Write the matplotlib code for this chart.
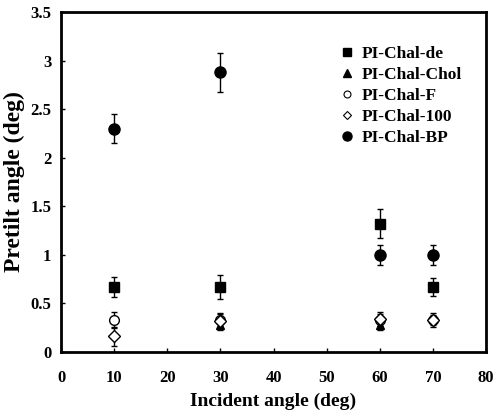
import matplotlib.pyplot as plt
from matplotlib.lines import Line2D
import numpy as np

plt.rcParams['font.family'] = ['Liberation Serif', 'DejaVu Serif']
plt.rcParams['font.weight'] = 'bold'

# angles d'incidence
angles = [10, 30, 60, 70]

# valeurs mesurées (pretilt, deg) et barres d'erreur
de_y = [0.67, 0.67, 1.32, 0.67]
de_err = [0.10, 0.12, 0.15, 0.09]

chol_x = [30, 60]
chol_y = [0.28, 0.28]
chol_err = [0.05, 0.05]

f_y = [0.33, 0.33, 0.33, 0.33]
f_err = [0.08, 0.06, 0.06, 0.05]

p100_y = [0.16, 0.32, 0.34, 0.33]
p100_err = [0.10, 0.08, 0.07, 0.07]

bp_y = [2.30, 2.88, 1.00, 1.00]
bp_err = [0.15, 0.20, 0.10, 0.10]

labels = ['PI-Chal-de', 'PI-Chal-Chol', 'PI-Chal-F', 'PI-Chal-100', 'PI-Chal-BP']

fig = plt.figure(figsize=(5, 4.19), dpi=100)
ax = fig.add_axes([0.122, 0.16, 0.85, 0.811])

kw = dict(color='black', ecolor='black', elinewidth=1, capsize=2.5, linestyle='none')
ax.errorbar(angles, de_y, yerr=de_err, marker='s', markersize=7, **kw)
ax.errorbar(chol_x, chol_y, yerr=chol_err, marker='^', markersize=6, **kw)
ax.errorbar(angles, f_y, yerr=f_err, marker='o', markersize=7, markerfacecolor='white', **kw)
ax.errorbar(angles, p100_y, yerr=p100_err, marker='D', markersize=6, markerfacecolor='white', **kw)
ax.errorbar(angles, bp_y, yerr=bp_err, marker='o', markersize=8, **kw)

ax.set_xlim(0, 80)
ax.set_ylim(0, 3.5)
ax.set_xticks(np.arange(0, 81, 10))
ax.set_yticks([0, 0.5, 1, 1.5, 2, 2.5, 3, 3.5])
ax.set_yticklabels(['0', '0.5', '1', '1.5', '2', '2.5', '3', '3.5'])
ax.tick_params(direction='in', length=3, width=1, labelsize=12)
ax.tick_params(axis='x', pad=13)
ax.tick_params(axis='y', pad=7)
for s in ax.spines.values():
    s.set_linewidth(2)

ax.set_xlabel('Incident angle (deg)', fontsize=14, fontweight='bold', labelpad=5)
ax.set_ylabel('Pretilt angle (deg)', fontsize=17, fontweight='bold', labelpad=4)

# légende : marqueurs seuls
handles = [
    Line2D([], [], color='black', marker='s', markersize=6, linestyle='none'),
    Line2D([], [], color='black', marker='^', markersize=6, linestyle='none'),
    Line2D([], [], color='black', marker='o', markersize=5, markerfacecolor='white',
           markeredgewidth=0.8, linestyle='none'),
    Line2D([], [], color='black', marker='D', markersize=4.5, markerfacecolor='white',
           markeredgewidth=0.8, linestyle='none'),
    Line2D([], [], color='black', marker='o', markersize=6.5, linestyle='none'),
]
ax.legend(handles, labels, loc='upper left', bbox_to_anchor=(0.635, 0.92), frameon=False,
          fontsize=12.5, handletextpad=0.35, labelspacing=0.28, handlelength=1.0,
          borderaxespad=0)

fig.savefig('out.png', dpi=100)
